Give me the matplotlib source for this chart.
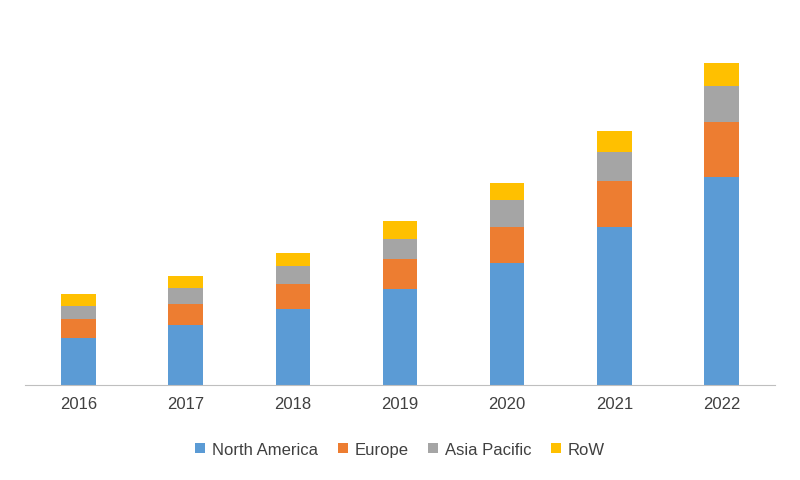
import matplotlib.pyplot as plt
import numpy as np

plt.rcParams["font.family"] = "Liberation Sans"

years = ["2016", "2017", "2018", "2019", "2020", "2021", "2022"]
north_america = [47, 60, 76, 96, 122, 158, 208]
europe = [19, 21, 25, 30, 36, 46, 55]
asia_pacific = [13, 16, 18, 20, 27, 29, 36]
row = [12, 12, 13, 18, 17, 21, 23]

series = [("North America", north_america, "#5B9BD5"),
          ("Europe", europe, "#ED7D31"),
          ("Asia Pacific", asia_pacific, "#A5A5A5"),
          ("RoW", row, "#FFC000")]

fig = plt.figure(figsize=(8, 4.81), dpi=100)
ax = fig.add_axes([0.031, 0.197, 0.938, 0.72])
x = np.arange(len(years))
bottom = np.zeros(len(years))
for name, vals, color in series:
    ax.bar(x, vals, 0.32, bottom=bottom, color=color, label=name)
    bottom += np.array(vals)

ax.set_xlim(-0.5, len(years) - 0.5)
ax.set_ylim(0, 346)
ax.set_xticks(x)
ax.set_xticklabels(years, fontsize=12, color="#404040")
ax.tick_params(axis="x", length=0, pad=8)
ax.set_yticks([])
for s in ["top", "left", "right"]:
    ax.spines[s].set_visible(False)
ax.spines["bottom"].set_color("#BFBFBF")

fig.legend(loc="center", bbox_to_anchor=(0.5, 0.064), ncol=4, frameon=False,
           fontsize=12, handlelength=0.6, handleheight=0.6, columnspacing=1.2,
           handletextpad=0.4, labelcolor="#404040")

fig.savefig("out.png", dpi=100)
